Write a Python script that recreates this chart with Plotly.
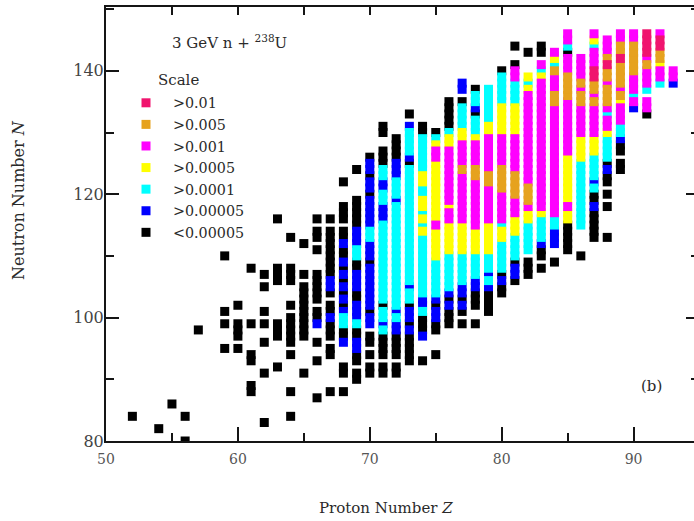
import plotly.graph_objects as go

# ---------------- data: (Z, N_from, N_to) ranges for each cross-section scale ----------------
scale_labels = ["<0.00005", ">0.00005", ">0.0001", ">0.0005", ">0.001", ">0.005", ">0.01"]
scale_colors = ["#000000", "#0000FF", "#00FFFF", "#FFFF00", "#FF00FF", "#E6A21E", "#F0146E"]

black_ranges = [
    (52, 84, 84), (54, 82, 82), (55, 86, 86), (56, 84, 84), (56, 80, 80), (57, 98, 98),
    (59, 110, 110), (59, 101, 101), (59, 99, 99), (59, 95, 95),
    (60, 102, 102), (60, 97, 99), (60, 95, 95),
    (61, 108, 108), (61, 99, 99), (61, 93, 94), (61, 88, 89),
    (62, 107, 107), (62, 105, 105), (62, 101, 101), (62, 99, 99), (62, 96, 96), (62, 91, 91), (62, 83, 83),
    (63, 116, 116), (63, 106, 108), (63, 97, 99), (63, 92, 92),
    (64, 113, 113), (64, 106, 108), (64, 102, 102), (64, 96, 100), (64, 94, 94), (64, 88, 88), (64, 84, 84),
    (65, 112, 112), (65, 107, 107), (65, 97, 105), (65, 91, 91),
    (66, 116, 116), (66, 113, 114), (66, 111, 111), (66, 103, 107), (66, 100, 101), (66, 96, 96), (66, 93, 93), (66, 87, 87),
    (67, 116, 116), (67, 107, 114), (67, 104, 104), (67, 101, 102), (67, 97, 99), (67, 94, 95), (67, 88, 88),
    (68, 122, 122), (68, 116, 118), (68, 113, 114), (68, 110, 111), (68, 108, 108), (68, 106, 106), (68, 104, 104),
    (68, 102, 102), (68, 97, 98), (68, 91, 92), (68, 88, 88),
    (69, 124, 124), (69, 115, 119), (69, 108, 109), (69, 103, 104), (69, 97, 98), (69, 93, 94), (69, 90, 91),
    (70, 126, 126), (70, 123, 123), (70, 120, 120), (70, 109, 109), (70, 101, 101), (70, 96, 97), (70, 94, 94), (70, 91, 92),
    (71, 130, 131), (71, 125, 127), (71, 102, 102), (71, 94, 97), (71, 91, 92),
    (72, 126, 129), (72, 94, 97), (72, 91, 92),
    (73, 133, 133), (73, 125, 125), (73, 102, 102), (73, 99, 99), (73, 93, 97),
    (74, 130, 131), (74, 98, 100), (74, 93, 93),
    (75, 130, 130), (75, 102, 102), (75, 98, 99), (75, 94, 94),
    (76, 131, 135), (76, 103, 103), (76, 99, 101),
    (77, 135, 135), (77, 103, 103), (77, 101, 101), (77, 99, 99),
    (78, 137, 137), (78, 133, 133), (78, 102, 104), (78, 99, 99),
    (79, 101, 104),
    (80, 140, 140), (80, 107, 107), (80, 104, 105),
    (81, 144, 144), (81, 141, 141), (81, 109, 109), (81, 106, 106),
    (82, 143, 143), (82, 107, 109),
    (83, 143, 144), (83, 110, 111), (83, 108, 108),
    (84, 109, 109),
    (85, 143, 143), (85, 111, 115),
    (86, 110, 110),
    (87, 119, 120), (87, 113, 117),
    (88, 125, 125), (88, 122, 123), (88, 120, 120), (88, 118, 118), (88, 113, 113),
    (89, 127, 128), (89, 124, 125),
    (91, 133, 133),
]

blue_ranges = [
    (66, 99, 99),
    (67, 105, 106), (67, 100, 100),
    (68, 112, 112), (68, 109, 109), (68, 107, 107), (68, 105, 105), (68, 103, 103), (68, 101, 101), (68, 96, 96),
    (69, 112, 114), (69, 105, 107), (69, 100, 102), (69, 95, 96),
    (70, 124, 125), (70, 121, 122), (70, 115, 119), (70, 110, 112), (70, 102, 108), (70, 99, 100),
    (71, 121, 122), (71, 116, 118), (71, 99, 99),
    (72, 123, 125), (72, 119, 119), (72, 101, 101), (72, 98, 99),
    (73, 131, 131), (73, 126, 126), (73, 105, 105), (73, 100, 101), (73, 98, 98),
    (74, 102, 103), (74, 97, 97),
    (75, 103, 103), (75, 100, 101),
    (76, 104, 104), (76, 102, 102),
    (77, 137, 138), (77, 104, 105), (77, 102, 102),
    (78, 134, 134), (78, 105, 106),
    (79, 107, 107), (79, 105, 105),
    (80, 106, 106),
    (81, 107, 108),
    (83, 112, 112),
    (84, 112, 114),
    (87, 122, 122), (87, 118, 118),
    (88, 124, 124),
    (89, 129, 129),
    (90, 134, 134),
    (93, 138, 138),
]

cyan_ranges = [
    (68, 99, 100),
    (69, 110, 111), (69, 99, 99),
    (70, 113, 114),
    (71, 123, 124), (71, 119, 120), (71, 103, 115), (71, 100, 101), (71, 98, 98),
    (72, 120, 122), (72, 102, 118), (72, 100, 100),
    (73, 127, 130), (73, 106, 124), (73, 103, 104),
    (74, 124, 129), (74, 120, 121), (74, 117, 117), (74, 115, 115), (74, 104, 113), (74, 101, 101),
    (75, 129, 129), (75, 104, 109),
    (76, 130, 130), (76, 105, 110),
    (77, 131, 134), (77, 106, 110),
    (78, 135, 136), (78, 130, 132), (78, 107, 110),
    (79, 132, 137), (79, 108, 110), (79, 106, 106),
    (80, 135, 139), (80, 115, 115), (80, 108, 112),
    (81, 135, 138), (81, 110, 113),
    (82, 138, 138), (82, 111, 115),
    (83, 140, 140), (83, 113, 116),
    (84, 141, 141), (84, 115, 116),
    (85, 144, 144),
    (86, 115, 125),
    (87, 144, 144), (87, 123, 126), (87, 121, 121),
    (88, 133, 133), (88, 126, 129),
    (89, 130, 131),
    (90, 136, 136),
    (91, 137, 137),
    (92, 138, 138),
]

yellow_ranges = [
    (74, 122, 123), (74, 118, 119), (74, 116, 116), (74, 114, 114),
    (75, 128, 128), (75, 116, 125), (75, 110, 114),
    (76, 128, 129), (76, 118, 118), (76, 111, 115),
    (77, 129, 130), (77, 111, 115),
    (78, 129, 129), (78, 111, 114),
    (79, 130, 131), (79, 111, 115),
    (80, 130, 134), (80, 113, 114),
    (81, 130, 134), (81, 114, 116),
    (82, 139, 139), (82, 137, 137), (82, 116, 117),
    (83, 139, 139), (83, 117, 117),
    (84, 142, 142),
    (85, 119, 126), (85, 116, 117),
    (86, 126, 129),
    (87, 145, 145), (87, 127, 129),
    (88, 130, 130),
    (89, 135, 135),
    (92, 141, 141),
]

magenta_ranges = [
    (75, 126, 127), (75, 115, 115),
    (76, 119, 127), (76, 116, 117),
    (77, 125, 128), (77, 116, 123),
    (78, 125, 128), (78, 115, 122),
    (79, 124, 129), (79, 116, 121),
    (80, 125, 129), (80, 116, 120),
    (81, 139, 140), (81, 124, 129), (81, 117, 119),
    (82, 122, 136), (82, 118, 118),
    (83, 141, 141), (83, 118, 138),
    (84, 143, 143), (84, 137, 139), (84, 117, 134),
    (85, 145, 146), (85, 140, 142), (85, 127, 135), (85, 118, 118),
    (86, 139, 142), (86, 137, 137), (86, 130, 134),
    (87, 146, 146), (87, 141, 143), (87, 136, 136), (87, 130, 134),
    (88, 143, 145), (88, 138, 138), (88, 134, 134), (88, 131, 132),
    (89, 145, 146), (89, 137, 137), (89, 132, 134),
    (90, 145, 146), (90, 137, 139), (90, 135, 135),
    (91, 142, 142), (91, 138, 140), (91, 134, 135),
    (92, 146, 146), (92, 139, 140),
    (93, 139, 140),
]

orange_ranges = [
    (77, 124, 124), (78, 123, 124), (79, 122, 123), (80, 121, 124), (81, 120, 123), (82, 119, 121),
    (84, 140, 140), (84, 135, 136),
    (85, 136, 139),
    (86, 138, 138), (86, 135, 136),
    (87, 137, 138), (87, 135, 135),
    (88, 142, 142), (88, 139, 140), (88, 135, 137),
    (89, 143, 144), (89, 138, 141), (89, 136, 136),
    (90, 140, 144),
    (91, 141, 141),
    (92, 142, 143),
]

red_ranges = [
    (87, 139, 140), (88, 141, 141), (89, 142, 142), (91, 143, 146), (92, 144, 145),
]

x_ticks = [50, 60, 70, 80, 90]
y_ticks = [80, 100, 120, 140]

# ---------------- figure ----------------
FONT = "DejaVu Serif"
TXT = "#2a2a2a"
W, H = 694, 521
ML, MR, MT, MB = 106, 0, 7, 80
PW, PH = W - ML - MR, H - MT - MB


def px_x(px):
    return (px - ML) / PW


def px_y(py):
    return (H - MB - py) / PH


def expand(ranges):
    zs, ns = [], []
    for z, lo, hi in ranges:
        for n in range(lo, hi + 1):
            zs.append(z)
            ns.append(n)
    return zs, ns


level_ranges = [black_ranges, blue_ranges, cyan_ranges, yellow_ranges,
                magenta_ranges, orange_ranges, red_ranges]

fig = go.Figure()
for lvl, rng in enumerate(level_ranges):
    zs, ns = expand(rng)
    fig.add_trace(go.Scatter(
        x=zs, y=ns, mode="markers", name=scale_labels[lvl],
        marker=dict(symbol="square", size=9, color=scale_colors[lvl], line=dict(width=0)),
        hoverinfo="skip",
    ))

# empty trace so the secondary (top / right) tick axes are drawn
fig.add_trace(go.Scatter(x=[None], y=[None], xaxis="x2", yaxis="y2", showlegend=False,
                         hoverinfo="skip", mode="markers"))

XR = [50, 50 + PW / 13.19]
YR = [80, 80 + PH / 6.17]
axis_col = "#151515"

fig.update_layout(
    width=W, height=H,
    margin=dict(l=ML, r=MR, t=MT, b=MB, pad=0),
    paper_bgcolor="white", plot_bgcolor="white",
    font=dict(family=FONT, color=TXT, size=15),
    showlegend=True,
    legend=dict(
        x=px_x(119), y=px_y(87), xanchor="left", yanchor="top",
        traceorder="reversed", itemwidth=44, itemclick=False,
        font=dict(family=FONT, size=14.3, color=TXT),
        bgcolor="rgba(0,0,0,0)", borderwidth=0,
    ),
    xaxis=dict(
        range=XR, showgrid=False, zeroline=False, automargin=False,
        showline=True, linewidth=2, linecolor=axis_col, mirror=False,
        ticks="inside", ticklen=14, tickwidth=2, tickcolor=axis_col,
        tickmode="array", tickvals=x_ticks, ticktext=[str(v) for v in x_ticks],
        tickfont=dict(family=FONT, size=14, color="#555"),
        ticklabelstandoff=4,
        minor=dict(ticks="inside", ticklen=8, tickwidth=2, tickcolor=axis_col, dtick=5, tick0=50),
    ),
    yaxis=dict(
        range=YR, showgrid=False, zeroline=False, automargin=False,
        showline=True, linewidth=2, linecolor=axis_col, mirror=False,
        ticks="inside", ticklen=13, tickwidth=2, tickcolor=axis_col,
        tickmode="array", tickvals=y_ticks, ticktext=[str(v) for v in y_ticks],
        tickfont=dict(family=FONT, size=16, color="#444"),
        ticklabelstandoff=-3,
        minor=dict(ticks="inside", ticklen=8, tickwidth=2, tickcolor=axis_col, dtick=10, tick0=80),
    ),
    xaxis2=dict(
        range=XR, overlaying="x", side="top", anchor="y2",
        showgrid=False, zeroline=False, automargin=False,
        showline=True, linewidth=2, linecolor=axis_col,
        ticks="inside", ticklen=8, tickwidth=2, tickcolor=axis_col,
        tick0=50, dtick=5, showticklabels=False,
    ),
    yaxis2=dict(
        range=YR, overlaying="y", side="right", anchor="x2",
        showgrid=False, zeroline=False, automargin=False, showline=False,
        ticks="inside", ticklen=8, tickwidth=2, tickcolor=axis_col,
        tick0=80, dtick=20, showticklabels=False,
        minor=dict(ticks="inside", ticklen=3, tickwidth=2, tickcolor=axis_col, dtick=10, tick0=80),
    ),
    annotations=[
        dict(text="Proton Number <i>Z</i>", x=px_x(386), y=px_y(508), xref="paper", yref="paper",
             showarrow=False, font=dict(family=FONT, size=15, color=TXT), xanchor="center", yanchor="middle"),
        dict(text="Neutron Number <i>N</i>", x=px_x(18), y=px_y(200), xref="paper", yref="paper",
             showarrow=False, textangle=-90, font=dict(family=FONT, size=16, color=TXT),
             xanchor="center", yanchor="middle"),
        dict(text="3 GeV n + <sup>238</sup>U", x=px_x(170), y=px_y(42), xref="paper", yref="paper",
             showarrow=False, font=dict(family=FONT, size=15, color=TXT), xanchor="left", yanchor="middle"),
        dict(text="Scale", x=px_x(156), y=px_y(80), xref="paper", yref="paper",
             showarrow=False, font=dict(family=FONT, size=15, color=TXT), xanchor="left", yanchor="middle"),
        dict(text="(b)", x=px_x(651), y=px_y(386), xref="paper", yref="paper",
             showarrow=False, font=dict(family=FONT, size=15, color=TXT), xanchor="center", yanchor="middle"),
    ],
)

fig.write_html("out.html")
